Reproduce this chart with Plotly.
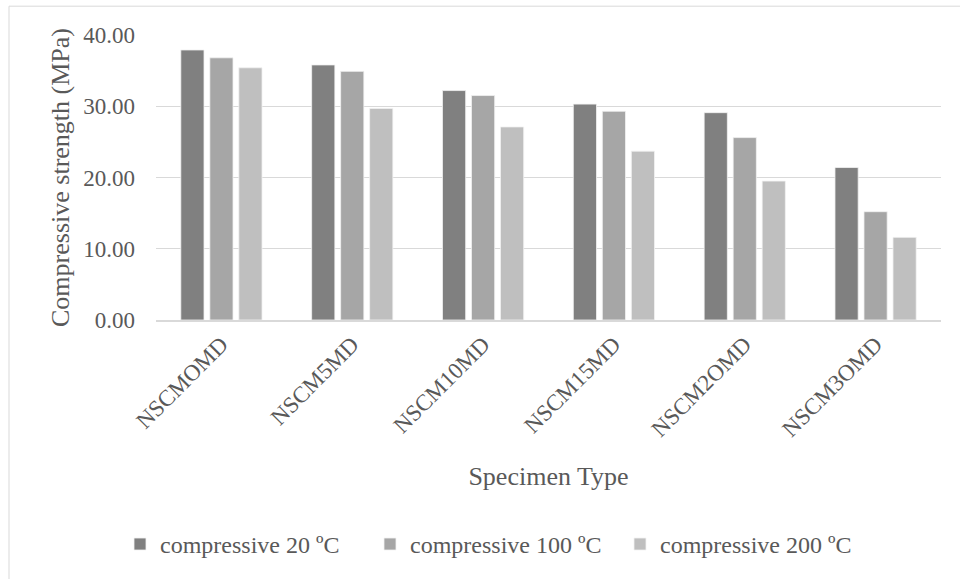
import plotly.graph_objects as go

categories = ["NSCMOMD", "NSCM5MD", "NSCM10MD", "NSCM15MD", "NSCM2OMD", "NSCM3OMD"]
series_names = ["compressive 20 ºC", "compressive 100 ºC", "compressive 200 ºC"]
strength_20 = [37.9, 35.8, 32.2, 30.3, 29.1, 21.4]
strength_100 = [36.8, 34.9, 31.5, 29.3, 25.6, 15.2]
strength_200 = [35.4, 29.7, 27.1, 23.7, 19.5, 11.6]
y_ticks = [0, 10, 20, 30, 40]

colors = ["#808080", "#a6a6a6", "#bfbfbf"]
font_family = "Liberation Serif, Times New Roman, serif"
text_color = "#595959"

fig = go.Figure()
for name, vals, col in zip(series_names, [strength_20, strength_100, strength_200], colors):
    fig.add_trace(go.Bar(
        x=categories, y=vals, name=name,
        marker=dict(color=col, line=dict(color="#f2f2f2", width=0.8)),
    ))

W, H = 960, 579
left, right, top, bottom = 156, 19, 35, 257
pw = W - left - right
ph = H - top - bottom

def px_x(x):
    return (x - left) / pw

def px_y(y):
    return (H - bottom - y) / ph

fig.update_layout(
    width=W, height=H,
    margin=dict(l=left, r=right, t=top, b=bottom),
    paper_bgcolor="white", plot_bgcolor="white",
    barmode="group", bargap=0.335, bargroupgap=0.2,
    font=dict(family=font_family, color=text_color, size=22),
    showlegend=True,
    legend=dict(
        orientation="h", x=px_x(495), y=px_y(548), xanchor="center", yanchor="middle",
        font=dict(size=24, color=text_color), itemwidth=30, traceorder="normal",
        entrywidth=205,
    ),
    xaxis=dict(
        tickangle=-45, tickfont=dict(size=23, color=text_color),
        showline=True, linecolor="#d9d9d9", linewidth=1.5,
        ticks="", showgrid=False,
        title=dict(text="Specimen Type", font=dict(size=26, color=text_color), standoff=26),
    ),
    yaxis=dict(
        range=[0, 40], tickvals=y_ticks, tickformat=".2f",
        tickfont=dict(size=23, color=text_color), ticklabelstandoff=20,
        showgrid=True, gridcolor="#d9d9d9", gridwidth=1.2,
        zeroline=False, showline=False, ticks="",
        title=dict(text="Compressive strength (MPa)", font=dict(size=26, color=text_color), standoff=6),
    ),
    shapes=[dict(
        type="rect", xref="paper", yref="paper",
        x0=px_x(9), x1=px_x(975), y0=px_y(595), y1=px_y(6),
        line=dict(color="#d9d9d9", width=1), fillcolor="rgba(0,0,0,0)", layer="below",
    )],
)

fig.write_html("out.html")
